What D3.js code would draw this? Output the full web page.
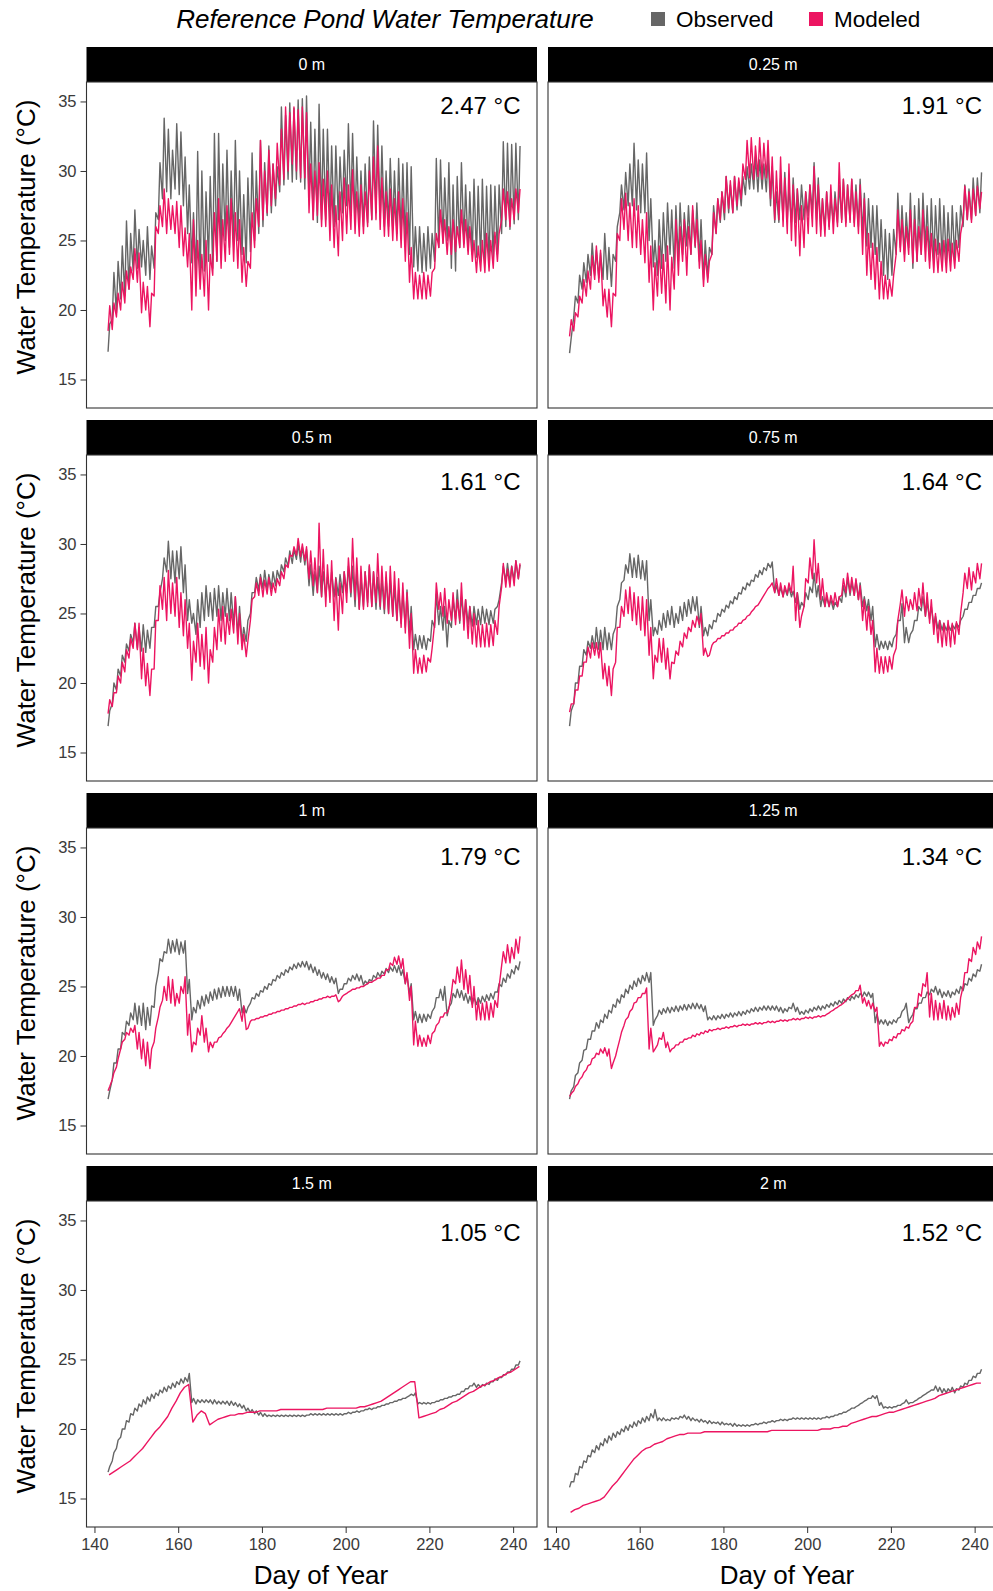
<!DOCTYPE html>
<html>
<head>
<meta charset="utf-8">
<script src="https://cdn.jsdelivr.net/npm/d3@7"></script>
<style>
  body { margin: 0; background: #fff; }
  svg { display: block; font-family: "Liberation Sans", Arial, sans-serif; }
</style>
</head>
<body>
<div id="chart"></div>
<script>
// Day of year for every daily reading
const days = [
  143, 144, 145, 146, 147, 148, 149, 150, 151, 152,
  153, 154, 155, 156, 157, 158, 159, 160, 161, 162,
  163, 164, 165, 166, 167, 168, 169, 170, 171, 172,
  173, 174, 175, 176, 177, 178, 179, 180, 181, 182,
  183, 184, 185, 186, 187, 188, 189, 190, 191, 192,
  193, 194, 195, 196, 197, 198, 199, 200, 201, 202,
  203, 204, 205, 206, 207, 208, 209, 210, 211, 212,
  213, 214, 215, 216, 217, 218, 219, 220, 221, 222,
  223, 224, 225, 226, 227, 228, 229, 230, 231, 232,
  233, 234, 235, 236, 237, 238, 239, 240, 241
];

const depths = ["0 m", "0.25 m", "0.5 m", "0.75 m", "1 m", "1.25 m", "1.5 m", "2 m"];
const rmse = ["2.47 °C", "1.91 °C", "1.61 °C", "1.64 °C", "1.79 °C", "1.34 °C", "1.05 °C", "1.52 °C"];
const yTicks = [15, 20, 25, 30, 35];
const xTicks = [140, 160, 180, 200, 220, 240];

// Daily afternoon highs (Hi) and early-morning lows (Lo), deg C
const obs0Hi = [
  19, 22.7, 23.5, 24.6, 26.4, 25.5, 27.2, 25.8, 25, 26,
  24.6, 27, 30.6, 33.8, 33, 31.5, 33.4, 32.8, 31, 29,
  27, 31.4, 30, 28.5, 29.6, 32.7, 32.7, 30.5, 31.5, 30,
  32.2, 30, 28.3, 29.5, 31.3, 30, 32.2, 30.6, 31.8, 30.5,
  30.3, 34.6, 34, 34.9, 34.5, 35.1, 35.2, 35.4, 33.5, 33,
  34.8, 33, 33, 31.8, 31.8, 31, 31.5, 33.4, 32.7, 31,
  30, 30.5, 31, 33.6, 33.3, 31.8, 30, 30.9, 30, 30.9,
  30.5, 30.6, 30.3, 26, 26, 25.5, 26, 25.5, 30.9, 30.8,
  29.5, 30.6, 29, 29.6, 30.6, 29, 28.5, 29.4, 28.9, 29.4,
  28.9, 29, 28.9, 29, 32.1, 32, 31.9, 32, 31.8
];
const obs0Lo = [
  17, 19.3, 19.8, 20.8, 21, 21.5, 22.8, 23, 23.1, 22.5,
  22.2, 23, 26.5, 28, 28.5, 28, 28.7, 28.3, 27.5, 25.5,
  23.4, 22.5, 22.2, 22.8, 23.5, 23, 23.5, 24.2, 25, 24.5,
  24.8, 25, 24, 23.4, 24.2, 25, 25.5, 26, 26.8, 27,
  27.5, 28.5, 29, 29.4, 29.2, 29.4, 29.2, 28.7, 28, 26.5,
  26.3, 26.5, 26.5, 26.3, 26, 26.5, 27, 27.5, 27, 26.5,
  26, 26, 26.3, 26.5, 27, 26.5, 26, 26, 25.8, 25.5,
  25.3, 24.8, 24, 23.1, 22.8, 22.7, 22.8, 23, 23.5, 24.5,
  24.8, 25, 23, 22.8, 24.5, 24.8, 24.3, 24, 23.8, 23.5,
  23.5, 23.3, 23.5, 24, 25.5, 26, 25.8, 26.2, 26.5
];
const mod0Hi = [
  20.3, 20.5, 21.2, 22, 22.8, 23.1, 24.4, 24.1, 22, 21.7,
  21.2, 26, 27.5, 28.7, 28, 27.5, 27.8, 27.5, 25.9, 25.5,
  26.5, 25, 24, 25, 24, 27, 28, 26.5, 27.5, 28,
  27, 26.5, 24.5, 23.5, 27, 28, 32.2, 30, 31.5, 30.5,
  32, 33, 34.6, 34.2, 34.6, 34.4, 34.6, 34.2, 30.5, 30,
  30.6, 29.4, 30, 29, 27.5, 28.5, 29.5, 29, 30.1, 28.5,
  29, 28.5, 30, 31, 31.8, 29.5, 28.5, 28.7, 28, 28.5,
  28, 27, 24.5, 22.7, 22.5, 22.7, 22.5, 22.7, 25.5, 27.2,
  26.5, 26, 26.5, 26, 27.2, 26.5, 26, 25, 24.6, 25,
  25.5, 25, 25.6, 25.5, 28.7, 28.5, 28, 28.7, 28.7
];
const mod0Lo = [
  18.5, 18.6, 19.5, 20, 20.5, 21.5, 22.2, 22, 19.8, 20,
  18.8, 21, 25.5, 26, 25.5, 25.8, 25.5, 24.5, 23.9, 23.1,
  20, 21, 21.5, 21, 20, 22.5, 23.5, 23, 23.5, 24,
  23.5, 23, 22, 21.7, 23, 24.5, 26, 26.5, 27, 27.5,
  28, 29, 29.4, 30, 30.5, 30, 29.5, 29.5, 27, 26.5,
  26.8, 26, 26, 25, 24.5, 23.9, 25, 25.5, 25.8, 25.5,
  25.3, 25.5, 26, 26.5, 26.5, 25.8, 25.3, 25.3, 25, 25,
  24.5, 23.5, 22, 20.8, 20.8, 20.8, 20.8, 21, 23, 24.5,
  24.8, 24, 24, 24.2, 24.5, 24.5, 24, 23.5, 22.7, 22.8,
  22.7, 22.8, 23, 23.5, 26.5, 26.5, 26, 26.5, 27
];

const obs025Hi = [
  18, 21, 22.5, 23.4, 24, 24.8, 24.3, 24.1, 25.5, 24.5,
  24, 26, 29, 29.9, 30.5, 32, 30.8, 30.5, 31.3, 28,
  25, 26.5, 27, 27.7, 27.2, 27.5, 27.7, 27, 27.5, 27.2,
  27.7, 26.5, 25, 24.5, 27.5, 28, 28.5, 29.6, 29, 29.6,
  29.2, 29.6, 30.3, 30.5, 31, 30.8, 30.5, 31, 30.3, 28.5,
  29.5, 29.9, 28.7, 29.5, 28.7, 29, 28.5, 29, 30.6, 29.5,
  28, 28.5, 28, 28.5, 29, 29.4, 29, 29.4, 29, 29.4,
  28.4, 28, 27.5, 27.5, 26.5, 25.8, 25.5, 25.8, 28.4, 27.5,
  27, 28.4, 27.5, 28, 28.4, 27.5, 28, 27.5, 28, 27.5,
  27, 27.5, 27, 27.5, 29, 28.7, 29.5, 29.5, 29.9
];
const obs025Lo = [
  16.9, 19.5, 20.5, 21.5, 22, 22.5, 22.5, 22.3, 22.2, 22.2,
  21.7, 23.5, 27, 27.2, 27.5, 27.5, 27.2, 27, 27, 25,
  23.1, 22.5, 23, 23.5, 24, 23, 23.5, 24, 24.6, 24,
  24.5, 23.5, 22.2, 22.3, 24, 25.5, 26.3, 26.5, 27, 27,
  27.2, 27.5, 28.3, 28.7, 28.7, 28.5, 28.7, 28.5, 27.5, 26.3,
  26.3, 26.5, 26.5, 26.3, 26.3, 26.5, 26.5, 26.8, 27, 26.5,
  25.8, 25.8, 26, 26.3, 26.3, 26.5, 26.3, 26.5, 26.3, 26,
  25.5, 24.6, 24.5, 24, 23.5, 22.5, 22.2, 22.5, 24, 24.5,
  24, 24.5, 23, 23.5, 24, 24.5, 23.5, 23.5, 24, 23.5,
  23.4, 23.5, 23.6, 24.5, 26, 26.5, 26.5, 26.8, 27
];
const mod025Hi = [
  19.3, 19.8, 21, 22.2, 22.8, 23.9, 24.6, 24.3, 21.5, 21.5,
  21.2, 25.5, 28, 28.4, 27.7, 28, 27.5, 26.5, 27, 24.6,
  23.4, 24.6, 24, 24.6, 23.8, 26.5, 26, 26.5, 26, 27.5,
  26.5, 25, 24, 23.5, 27, 28, 28.5, 29.6, 29.3, 29.6,
  29.5, 30.5, 32.2, 32.4, 31.8, 32.4, 32, 32.2, 31, 30,
  31, 29.5, 30.5, 29, 28.7, 27.5, 28.5, 29, 30.3, 29,
  28, 28.5, 29, 28, 30.6, 29.4, 29, 29.4, 28.5, 29,
  28, 25.5, 24.8, 24.5, 23.5, 22.5, 22.2, 22.5, 27.2, 26.5,
  26, 27.2, 26.5, 26, 27.2, 26, 25.5, 25.1, 24.8, 25,
  25.1, 24.8, 25, 25.5, 28.9, 28.5, 28.7, 28.9, 28.5
];
const mod025Lo = [
  18.1, 18.5, 19.5, 20.5, 21, 21.5, 22.2, 22, 20.3, 19.5,
  18.8, 21, 25, 25.8, 25, 24.5, 24.5, 24, 23.4, 22,
  20, 21, 21.2, 20.5, 20, 21.5, 22.5, 23.5, 22.5, 24,
  24.6, 23, 21.7, 22, 24, 25.5, 26.5, 27, 27.3, 27,
  27.5, 28, 29.4, 29.5, 29.4, 29.6, 29.4, 29.5, 28, 26.5,
  26.5, 26, 25.5, 25, 24.6, 23.9, 24.5, 25.5, 26, 25.5,
  25.3, 25.3, 25.8, 25.5, 26, 26.3, 26, 26.3, 26, 25.5,
  24, 22.5, 22.2, 21.5, 20.8, 20.8, 20.8, 21, 24, 24.2,
  23.5, 24, 23.4, 23.5, 24, 23.5, 23, 22.7, 22.7, 22.8,
  22.7, 22.8, 23, 23.5, 26.5, 26.5, 26.3, 26.8, 27.3
];

const obs05Hi = [
  18, 20, 21, 22, 22.8, 23.5, 24.3, 24, 24.2, 23.8,
  24, 25.5, 26.5, 29, 30.2, 29.5, 29.5, 29.8, 28.5, 26,
  25, 26, 26.5, 27, 26.5, 26.8, 27, 26.5, 26.8, 26.5,
  26.2, 25.5, 24, 24.5, 26.5, 27.6, 27.8, 28.1, 27.8, 28,
  28.1, 28.5, 29, 29.5, 29.6, 30, 29.8, 29.6, 28.5, 28,
  28.4, 28, 27.6, 28, 27.6, 27.8, 28, 28.4, 28.4, 28,
  27.5, 28, 28.4, 28, 27.6, 27.5, 27.6, 27.4, 27, 26.7,
  26.5, 26.7, 25.5, 23.5, 23.4, 23.4, 23.2, 24.5, 26.4, 25.5,
  25.5, 24.5, 26, 26.7, 26.2, 26, 25.5, 25.5, 25.3, 25.5,
  25.3, 25.2, 25.3, 26, 28.4, 28.6, 28.4, 28.8, 28.5
];
const obs05Lo = [
  16.9, 18.5, 19.5, 20.5, 21.5, 22.3, 22.9, 22.5, 22.3, 22.2,
  22.5, 24, 25.5, 27.5, 28, 27.5, 27.2, 27.5, 26.5, 24.5,
  24.3, 23.5, 24, 24.5, 24.8, 24.5, 24.8, 24.5, 24.8, 24.5,
  24.2, 23.4, 22.9, 23, 25, 26.5, 26.7, 26.8, 26.7, 26.8,
  27, 27.5, 28, 28.4, 28.6, 28.9, 28.7, 28.5, 27, 26.3,
  26.5, 26.2, 26.2, 26.5, 26.2, 26.3, 26.5, 26.5, 26.2, 25.5,
  25.3, 25.5, 25.8, 25.5, 25.3, 25.3, 25, 25, 24.8, 24.5,
  24.3, 24, 23.6, 22.4, 22.4, 22.5, 22.4, 23, 24, 24.2,
  23.8, 22.6, 24, 24.6, 24.3, 24.5, 24.2, 24.1, 24.2, 24.2,
  24.3, 24.2, 24.3, 25.5, 27.2, 27.3, 27.2, 27.4, 27.5
];
const mod05Hi = [
  18.8, 19.3, 20.5, 21.5, 22.4, 23.2, 24.3, 24.3, 22.5, 21.4,
  21, 24.5, 27, 27.6, 28.1, 27.2, 27.6, 26.5, 26, 24.3,
  23, 24.3, 23.5, 24, 22.4, 24, 25.3, 25.5, 25, 25.3,
  26.2, 25, 23.5, 23, 26, 27.2, 27.6, 27.4, 27.6, 27.2,
  27.5, 28, 28.5, 29.2, 29.8, 30.4, 30, 29.8, 29.5, 29,
  31.5, 29.6, 28.5, 28.8, 27.5, 27.2, 28, 29, 30.4, 29,
  28.4, 28, 28.5, 28, 29.3, 28.4, 28, 28.4, 28, 27.5,
  27.2, 26.5, 25, 22.4, 21.8, 22, 21.8, 22.5, 27.2, 26.5,
  26.8, 26, 26.5, 26, 27.2, 26, 25.5, 25, 24.5, 24.2,
  24.3, 24.2, 24.5, 25.5, 28.6, 28.2, 28.4, 28.8, 28.6
];
const mod05Lo = [
  17.8, 18.3, 19.3, 20, 20.8, 21.8, 22.5, 22.4, 20.3, 19.8,
  19.1, 21, 24.5, 25.3, 24.5, 25, 24.8, 24, 23.4, 22.5,
  20.2, 21.5, 21.2, 21, 20, 21.5, 22.4, 23, 22.8, 23.5,
  23.6, 22.8, 22.4, 21.9, 24.5, 26.2, 26.3, 26.2, 26.4, 26.3,
  26.5, 27, 27.5, 28.3, 29.1, 29.2, 29.1, 28.8, 27.5, 27,
  26.5, 26.2, 25.5, 25.8, 24.5, 23.8, 25, 25.8, 26.5, 26,
  25.3, 25.3, 25.5, 25.5, 25.8, 25.5, 25.3, 25, 24.8, 24.5,
  24, 23.6, 22.5, 20.7, 20.7, 20.7, 20.8, 21.5, 24.3, 25.3,
  24.8, 24.3, 24.5, 24.2, 24.5, 23.8, 23.2, 22.8, 22.6, 22.6,
  22.6, 22.6, 22.7, 23.5, 26.9, 26.9, 26.9, 27, 27.5
];

const obs075Hi = [
  18, 20, 21.2, 22.4, 23, 23.4, 24, 23.8, 24, 23.6,
  23.5, 25.5, 27.2, 28.5, 29.3, 29, 29.2, 28.8, 28.8, 26,
  24, 24.5, 25, 25.2, 25.5, 25, 25.5, 25.8, 26, 26.2,
  26.2, 25.5, 24, 24.2, 24.5, 25, 25.3, 25.6, 25.9, 26.2,
  26.5, 26.9, 27.2, 27.4, 27.8, 28.1, 28.3, 28.6, 28.7, 27,
  26.9, 26.8, 26.9, 26.6, 26.5, 25.8, 26.5, 26.9, 27.9, 27,
  26.2, 26.2, 26, 25.8, 26.2, 27, 27.6, 27.2, 27.4, 27.2,
  26.2, 26, 25.5, 23.5, 23, 23, 23, 23.2, 24.5, 25.7,
  24, 23.5, 24.5, 25.5, 26.2, 25.8, 25.5, 24.8, 24.5, 24.3,
  24.2, 24.2, 24.3, 24.5, 25.3, 25.8, 26.3, 26.8, 27.2
];
const obs075Lo = [
  16.9, 18.5, 20, 21.2, 22, 22.5, 22.5, 22.4, 22.4, 22.4,
  22.4, 24, 26, 27.4, 27.9, 27.6, 27.6, 27.5, 27.4, 24.5,
  23.4, 23.5, 23.8, 24, 24.2, 24, 24.3, 24.5, 24.8, 25,
  25.2, 24, 23.4, 23.4, 23.9, 24.4, 24.8, 25.1, 25.4, 25.7,
  26, 26.4, 26.7, 27, 27.3, 27.6, 27.8, 28.1, 28.3, 26.5,
  26.3, 26.2, 26.3, 26.2, 25.8, 25.3, 25.5, 26, 26.5, 26.2,
  25.5, 25.5, 25.5, 25.3, 25.5, 25.8, 26.2, 26.3, 26.3, 26,
  25.5, 25.2, 24.5, 22.6, 22.4, 22.5, 22.4, 22.6, 23.5, 24.5,
  22.9, 22.9, 23.8, 24.5, 25.2, 24.8, 24.6, 24.2, 23.9, 23.8,
  23.8, 23.8, 23.9, 24, 24.8, 25.3, 25.8, 26.3, 26.8
];
const mod075Hi = [
  18.5, 19.5, 20.5, 21.5, 22.6, 22.9, 22.9, 22.9, 21.4, 21.2,
  21, 24, 25.5, 26.7, 26.9, 26.5, 26.2, 26.2, 26, 24,
  22, 23.2, 23.2, 22.5, 21.5, 22.3, 23, 23.6, 24, 24.5,
  24.8, 25, 22.5, 22, 22.9, 23.2, 23.4, 23.6, 23.8, 24,
  24.3, 24.5, 24.8, 25.1, 25.5, 25.8, 26.3, 26.8, 27.2, 27.5,
  27.2, 27, 27.2, 28.4, 26.5, 24.8, 27.5, 29, 30.3, 28.6,
  27.5, 26.5, 26.3, 26.5, 26.2, 27.5, 27.9, 27.6, 27.5, 27,
  26, 25.5, 24.5, 22.5, 21.9, 21.9, 21.9, 22, 24.5, 26.7,
  26.2, 26, 26.5, 26.8, 27.2, 26.5, 26, 25, 24.5, 24.3,
  24.5, 24.3, 24.4, 25, 27.9, 28.3, 28, 28.6, 28.6
];
const mod075Lo = [
  17.9, 18.5, 19.5, 20.5, 21.5, 21.8, 22, 21.8, 20.3, 19.8,
  19.1, 21.5, 24, 24.8, 25, 24.5, 24.2, 23.8, 23.4, 22,
  20.3, 21.5, 21.5, 21, 20.3, 21.4, 22, 22.6, 23.2, 23.7,
  24, 24.2, 22, 21.9, 22.7, 23, 23.2, 23.4, 23.6, 23.8,
  24.1, 24.3, 24.6, 24.9, 25.3, 25.6, 26.1, 26.6, 27, 26.5,
  26.3, 26.2, 26.4, 26.5, 24.5, 24, 25.5, 27.2, 27.5, 27.2,
  26, 25.5, 25.5, 25.6, 25.5, 26.3, 26.5, 26.5, 26.3, 26,
  24.5, 23.8, 23.5, 20.8, 20.7, 20.7, 20.8, 21, 22.5, 25.7,
  24.8, 25.2, 25.3, 25.2, 25.5, 24.8, 24.3, 23.5, 22.9, 22.6,
  22.7, 22.6, 22.8, 23.5, 26.5, 26.8, 26.7, 27.2, 27.5
];

const obs1Hi = [
  17.5, 19.5, 20.5, 21.7, 22.5, 23.1, 23.8, 23.6, 23.8, 23.5,
  23.6, 25, 27, 27.5, 28.4, 28.3, 28.4, 28.2, 28.3, 25.5,
  23.5, 24, 24.3, 24.4, 24.6, 24.8, 24.9, 25, 25, 25,
  25, 24.8, 23.6, 23.5, 24.2, 24.5, 24.7, 25, 25.2, 25.5,
  25.8, 26, 26.2, 26.4, 26.6, 26.7, 26.8, 26.8, 26.6, 26.4,
  26.2, 26, 25.9, 25.7, 25.6, 24.8, 25.2, 25.6, 25.8, 25.9,
  25.8, 25.4, 25.5, 25.8, 26, 26.1, 26.3, 26.4, 26.5, 26.5,
  26.2, 25.8, 25.2, 23.2, 23, 23, 23, 23.2, 24.2, 24.8,
  25, 23.5, 24.5, 24.8, 24.7, 24.5, 24.3, 24.2, 24.2, 24.3,
  24.4, 24.5, 24.6, 25.2, 25.6, 25.9, 26.2, 26.5, 26.8
];
const obs1Lo = [
  16.9, 18.3, 19.5, 20.5, 21.5, 22.2, 22.6, 22.3, 22.2, 21.9,
  22.2, 23.5, 26, 26.8, 27.4, 27.4, 27.5, 27.3, 27.4, 24.5,
  22.6, 23.1, 23.4, 23.6, 23.8, 24, 24.1, 24.2, 24.3, 24.3,
  24.3, 24, 23.1, 23.1, 23.8, 24.1, 24.3, 24.6, 24.8, 25.1,
  25.4, 25.6, 25.8, 26, 26.2, 26.3, 26.4, 26.4, 26.2, 26,
  25.8, 25.6, 25.5, 25.3, 25.2, 24.5, 24.8, 25.2, 25.4, 25.5,
  25.4, 25.1, 25.2, 25.4, 25.6, 25.7, 25.9, 26, 26.1, 26,
  25.8, 25.2, 24.5, 22.6, 22.4, 22.4, 22.5, 22.7, 23.5, 24.2,
  24, 22.9, 23.8, 24.2, 24.2, 24, 23.8, 23.7, 23.7, 23.8,
  23.9, 24, 24.1, 24.6, 25, 25.3, 25.6, 25.9, 26.2
];
const mod1Hi = [
  17.8, 18.8, 19.8, 21, 21.7, 22, 22.2, 21.7, 21.2, 21,
  20.5, 22, 23.5, 25, 25.7, 25.5, 24.5, 25, 25.7, 23,
  21, 22, 22.9, 22, 21, 21, 21.3, 21.6, 22, 22.4,
  22.9, 23.4, 23.6, 22, 22.6, 22.7, 22.8, 22.9, 23, 23.1,
  23.2, 23.3, 23.4, 23.5, 23.6, 23.7, 23.8, 23.8, 23.9, 24,
  24.1, 24.2, 24.3, 24.3, 24.4, 24, 24.4, 24.6, 24.8, 24.9,
  25, 25.1, 25.3, 25.4, 25.6, 25.8, 26.2, 26.7, 27.1, 27.2,
  27, 26, 25, 22.5, 21.5, 21.3, 21.5, 21.6, 22.2, 22.8,
  23.1, 23.4, 25.5, 26.4, 26.9, 26.2, 25.8, 25, 24, 23.8,
  23.9, 23.8, 24, 25, 27.5, 28, 27.8, 28.4, 28.6
];
const mod1Lo = [
  17.5, 18.3, 19.2, 20.5, 21.2, 21.5, 21.7, 20.5, 19.8, 19.3,
  19.1, 21, 22.8, 24, 24, 23.8, 23.6, 23.8, 24.5, 21.5,
  20.3, 20.8, 21.5, 21, 20.3, 20.6, 21, 21.4, 21.8, 22.2,
  22.7, 23.2, 22.5, 21.9, 22.5, 22.6, 22.7, 22.8, 22.9, 23,
  23.1, 23.2, 23.3, 23.4, 23.5, 23.6, 23.7, 23.7, 23.8, 23.9,
  24, 24.1, 24.2, 24.2, 24.3, 23.9, 24.3, 24.5, 24.7, 24.8,
  24.9, 25, 25.2, 25.3, 25.5, 25.6, 25.8, 26.2, 26.5, 26.6,
  26.3, 25.2, 24, 20.8, 20.7, 20.7, 20.7, 20.9, 21.8, 22.4,
  22.8, 23.1, 24.5, 25.2, 25.3, 24.8, 24.5, 23.5, 22.6, 22.6,
  22.6, 22.6, 22.8, 23.5, 26.5, 26.7, 26.7, 27, 27.4
];

const obs125Hi = [
  17.5, 18.6, 19.5, 20.4, 21.2, 21.8, 22.4, 22.6, 23, 23.3,
  23.7, 24.1, 24.4, 24.8, 25.1, 25.4, 25.6, 25.8, 26, 26,
  22.6, 23.3, 23.4, 23.5, 23.5, 23.6, 23.6, 23.7, 23.7, 23.8,
  23.8, 23.7, 23.6, 22.8, 22.9, 22.9, 23, 23, 23.1, 23.1,
  23.2, 23.2, 23.3, 23.4, 23.5, 23.5, 23.6, 23.6, 23.6, 23.6,
  23.5, 23.4, 23.5, 23.8, 23.5, 23.2, 23.3, 23.4, 23.5, 23.6,
  23.6, 23.7, 23.8, 23.9, 24, 24.1, 24.2, 24.3, 24.4, 24.5,
  24.6, 24.6, 24.5, 23, 22.6, 22.6, 22.5, 22.6, 22.7, 23.2,
  23.8, 22.7, 23.4, 23.8, 24.2, 24.6, 24.8, 25, 24.8, 24.6,
  24.7, 24.6, 24.8, 25, 25.2, 25.6, 25.9, 26.2, 26.6
];
const obs125Lo = [
  16.9, 17.8, 18.8, 19.7, 20.5, 21.2, 21.8, 22, 22.4, 22.7,
  23.1, 23.5, 23.8, 24.2, 24.5, 24.8, 25, 25.2, 25.4, 25.3,
  22.2, 22.9, 23, 23.1, 23.1, 23.2, 23.2, 23.3, 23.3, 23.4,
  23.4, 23.4, 23.2, 22.6, 22.6, 22.6, 22.7, 22.7, 22.8, 22.8,
  22.9, 22.9, 23, 23.1, 23.2, 23.2, 23.3, 23.3, 23.3, 23.3,
  23.2, 23.1, 23.2, 23.4, 23.2, 23, 23, 23.1, 23.2, 23.3,
  23.3, 23.4, 23.5, 23.6, 23.7, 23.8, 23.9, 24, 24.1, 24.2,
  24.3, 24.3, 24.2, 22.4, 22.3, 22.3, 22.2, 22.3, 22.4, 22.8,
  23.4, 22.4, 23, 23.4, 23.8, 24.2, 24.4, 24.6, 24.4, 24.2,
  24.3, 24.2, 24.4, 24.5, 24.7, 25.1, 25.4, 25.7, 26.1
];
const mod125Hi = [
  17.3, 17.8, 18.3, 18.8, 19.3, 19.8, 20.2, 20.5, 20.6, 20.5,
  19.5, 20.5, 21.7, 22.6, 23.2, 23.8, 24.2, 24.5, 24.9, 22,
  20.5, 21.3, 21.7, 21, 20.5, 20.8, 21, 21.2, 21.3, 21.5,
  21.6, 21.7, 21.8, 21.9, 21.9, 22, 22, 22.1, 22.1, 22.2,
  22.2, 22.3, 22.3, 22.3, 22.4, 22.4, 22.4, 22.5, 22.5, 22.5,
  22.6, 22.6, 22.6, 22.7, 22.7, 22.7, 22.8, 22.8, 22.8, 22.9,
  22.9, 23, 23.2, 23.4, 23.6, 23.8, 24.1, 24.4, 24.7, 25.1,
  24.2, 24, 23.8, 23.5, 21, 21, 21.2, 21.4, 21.6, 21.9,
  22.1, 22.3, 23.5, 24.5, 25.2, 26, 24.5, 24, 23.8, 24,
  23.6, 23.5, 23.8, 24.2, 26, 27, 27.8, 28.2, 28.6
];
const mod125Lo = [
  17.1, 17.5, 18, 18.5, 19, 19.4, 19.9, 20.1, 20.2, 20,
  19.1, 20, 21.2, 22.2, 22.8, 23.4, 23.9, 24.2, 24.5, 20.5,
  20.3, 20.8, 21.2, 20.6, 20.3, 20.6, 20.8, 21, 21.2, 21.3,
  21.4, 21.5, 21.6, 21.7, 21.8, 21.9, 21.9, 22, 22, 22.1,
  22.1, 22.2, 22.2, 22.2, 22.3, 22.3, 22.3, 22.4, 22.4, 22.4,
  22.5, 22.5, 22.5, 22.6, 22.6, 22.6, 22.7, 22.7, 22.7, 22.8,
  22.8, 22.9, 23.1, 23.3, 23.5, 23.7, 24, 24.3, 24.5, 24.7,
  23.8, 23.6, 23.4, 23.2, 20.7, 20.7, 20.9, 21.1, 21.3, 21.6,
  21.8, 22, 22.5, 23.5, 24.3, 25, 22.8, 22.6, 22.6, 22.7,
  22.6, 22.6, 22.8, 23, 25, 26, 26.8, 27.3, 27.7
];

const obs15Hi = [
  17.3, 18.3, 19.2, 20, 20.6, 21.1, 21.5, 21.8, 22.1, 22.3,
  22.5, 22.6, 22.8, 23, 23.1, 23.3, 23.4, 23.6, 23.7, 24,
  22.2, 22.1, 22.1, 22.1, 22.1, 22.1, 22, 22, 22, 22,
  21.9, 21.8, 21.7, 21.5, 21.4, 21.3, 21.2, 21.1, 21, 21,
  21, 21, 21, 21, 21, 21, 21, 21, 21.1, 21.1,
  21.1, 21.1, 21.1, 21.1, 21.1, 21.1, 21.1, 21.2, 21.2, 21.3,
  21.3, 21.4, 21.5, 21.5, 21.6, 21.7, 21.8, 21.9, 22, 22.1,
  22.2, 22.3, 22.5, 22.6, 21.9, 21.9, 21.9, 21.9, 22, 22.1,
  22.2, 22.3, 22.4, 22.5, 22.7, 22.9, 23.1, 23.3, 23.2, 23.2,
  23.3, 23.4, 23.6, 23.7, 23.9, 24.1, 24.3, 24.6, 24.9
];
const obs15Lo = [
  16.9, 17.7, 18.6, 19.4, 20, 20.5, 21, 21.3, 21.6, 21.8,
  22, 22.2, 22.4, 22.6, 22.7, 22.9, 23, 23.2, 23.3, 23.4,
  21.9, 21.8, 21.9, 21.9, 21.9, 21.8, 21.8, 21.8, 21.8, 21.7,
  21.7, 21.6, 21.5, 21.3, 21.2, 21.1, 21, 20.9, 20.9, 20.9,
  20.9, 20.9, 20.9, 20.9, 20.9, 20.9, 20.9, 20.9, 21, 21,
  21, 21, 21, 21, 21, 21, 21, 21.1, 21.1, 21.2,
  21.2, 21.3, 21.4, 21.4, 21.5, 21.6, 21.7, 21.8, 21.9, 22,
  22.1, 22.2, 22.4, 22.4, 21.8, 21.8, 21.8, 21.8, 21.9, 22,
  22.1, 22.2, 22.3, 22.4, 22.5, 22.7, 22.9, 23.1, 23, 23,
  23.1, 23.2, 23.4, 23.5, 23.7, 23.9, 24.1, 24.3, 24.6
];
// Modeled 1.5 m shows no visible daily cycle: one reading per day
const mod15 = [
  16.7, 16.9, 17.1, 17.3, 17.5, 17.7, 18, 18.3, 18.6, 19,
  19.4, 19.8, 20.1, 20.5, 20.9, 21.5, 22, 22.6, 23, 23.2,
  20.5, 21, 21.3, 21.1, 20.3, 20.5, 20.7, 20.8, 20.9, 21,
  21, 21.1, 21.1, 21.2, 21.2, 21.2, 21.3, 21.3, 21.3, 21.3,
  21.3, 21.4, 21.4, 21.4, 21.4, 21.4, 21.4, 21.4, 21.4, 21.4,
  21.4, 21.4, 21.5, 21.5, 21.5, 21.5, 21.5, 21.5, 21.5, 21.5,
  21.6, 21.6, 21.7, 21.8, 21.9, 22, 22.2, 22.4, 22.6, 22.8,
  23, 23.2, 23.4, 23.4, 20.8, 20.9, 21, 21.1, 21.2, 21.4,
  21.5, 21.7, 21.9, 22, 22.2, 22.4, 22.6, 22.7, 22.9, 23.1,
  23.2, 23.4, 23.5, 23.7, 23.8, 24, 24.1, 24.3, 24.5
];

const obs2Hi = [
  16.2, 16.8, 17.3, 17.7, 18.1, 18.5, 18.8, 19, 19.3, 19.5,
  19.7, 19.8, 20, 20.2, 20.3, 20.5, 20.6, 20.8, 20.9, 21.1,
  21.4, 20.8, 20.8, 20.7, 20.8, 20.8, 20.9, 21, 20.9, 20.8,
  20.7, 20.7, 20.6, 20.6, 20.5, 20.5, 20.5, 20.4, 20.4, 20.4,
  20.3, 20.3, 20.3, 20.3, 20.4, 20.4, 20.5, 20.5, 20.6, 20.6,
  20.7, 20.7, 20.7, 20.8, 20.8, 20.8, 20.8, 20.8, 20.8, 20.8,
  20.8, 20.9, 20.9, 21, 21.1, 21.2, 21.3, 21.5, 21.6, 21.8,
  22, 22.2, 22.4, 22.4, 21.9, 21.6, 21.6, 21.6, 21.7, 21.8,
  22.1, 21.9, 22, 22.2, 22.4, 22.6, 22.8, 23.1, 23, 22.9,
  22.9, 23, 22.9, 23.1, 23.3, 23.5, 23.8, 24, 24.3
];
const obs2Lo = [
  15.8, 16.2, 16.7, 17.2, 17.6, 18, 18.3, 18.5, 18.8, 19,
  19.2, 19.4, 19.6, 19.8, 19.9, 20.1, 20.2, 20.4, 20.5, 20.6,
  20.8, 20.6, 20.6, 20.6, 20.6, 20.7, 20.7, 20.8, 20.7, 20.6,
  20.6, 20.5, 20.5, 20.4, 20.4, 20.4, 20.3, 20.3, 20.3, 20.2,
  20.2, 20.2, 20.2, 20.2, 20.3, 20.3, 20.4, 20.4, 20.5, 20.5,
  20.6, 20.6, 20.6, 20.7, 20.7, 20.7, 20.7, 20.7, 20.7, 20.7,
  20.7, 20.8, 20.8, 20.9, 21, 21.1, 21.2, 21.4, 21.5, 21.7,
  21.9, 22.1, 22.2, 22.2, 21.7, 21.5, 21.5, 21.5, 21.6, 21.7,
  21.9, 21.8, 21.9, 22.1, 22.3, 22.5, 22.7, 22.8, 22.7, 22.6,
  22.6, 22.7, 22.6, 22.8, 23, 23.2, 23.5, 23.7, 24
];
// Modeled 2 m: one reading per day
const mod2 = [
  14, 14.2, 14.3, 14.5, 14.6, 14.7, 14.8, 14.9, 15.1, 15.5,
  15.9, 16.2, 16.6, 17, 17.4, 17.8, 18.1, 18.4, 18.6, 18.7,
  18.9, 19, 19.1, 19.3, 19.4, 19.5, 19.6, 19.6, 19.7, 19.7,
  19.7, 19.7, 19.8, 19.8, 19.8, 19.8, 19.8, 19.8, 19.8, 19.8,
  19.8, 19.8, 19.8, 19.8, 19.8, 19.8, 19.8, 19.8, 19.9, 19.9,
  19.9, 19.9, 19.9, 19.9, 19.9, 19.9, 19.9, 19.9, 19.9, 19.9,
  20, 20, 20, 20.1, 20.1, 20.2, 20.2, 20.4, 20.5, 20.6,
  20.7, 20.8, 20.9, 20.9, 21, 21.1, 21.2, 21.2, 21.3, 21.4,
  21.5, 21.6, 21.7, 21.8, 21.9, 22, 22.1, 22.2, 22.4, 22.5,
  22.6, 22.7, 22.8, 22.9, 23, 23.1, 23.2, 23.3, 23.3
];

const observed = [
  [obs0Hi, obs0Lo], [obs025Hi, obs025Lo], [obs05Hi, obs05Lo], [obs075Hi, obs075Lo],
  [obs1Hi, obs1Lo], [obs125Hi, obs125Lo], [obs15Hi, obs15Lo], [obs2Hi, obs2Lo]
];
const modeled = [
  [mod0Hi, mod0Lo], [mod025Hi, mod025Lo], [mod05Hi, mod05Lo], [mod075Hi, mod075Lo],
  [mod1Hi, mod1Lo], [mod125Hi, mod125Lo], [mod15, null], [mod2, null]
];

// Colours
const obsColor = "#666666";
const modColor = "#EC1561";

// Time of day (fraction) for the daily low and high
const LOW_AT = 0.25, HIGH_AT = 0.65;

function dielPoints(hi, lo) {
  const pts = [];
  days.forEach((d, i) => {
    if (lo) {
      pts.push([d + LOW_AT, lo[i]]);
      pts.push([d + HIGH_AT, hi[i]]);
    } else {
      pts.push([d + 0.5, hi[i]]);
    }
  });
  return pts;
}

// Dimensions
const W = 993, H = 1591;
const colX = [86.5, 548];
const panelW = 450.5, panelH = 326, stripH = 35, rowStep = 373, firstTop = 82;

const svg = d3.select("#chart")
  .append("svg")
  .attr("width", W)
  .attr("height", H);

svg.append("rect").attr("width", W).attr("height", H).attr("fill", "#fff");

// Scales
const x = d3.scaleLinear().domain([138.1, 245.7]).range([0, panelW]);
const y = d3.scaleLinear().domain([12.95, 36.4]).range([panelH, 0]);

const line = d3.line()
  .x(d => x(d[0]))
  .y(d => y(d[1]));

// Title and legend
svg.append("text")
  .attr("x", 385).attr("y", 28)
  .attr("text-anchor", "middle")
  .style("font-size", "26px")
  .style("font-style", "italic")
  .text("Reference Pond Water Temperature");

const legend = [["Observed", obsColor, 651], ["Modeled", modColor, 809]];
legend.forEach(([label, color, lx]) => {
  svg.append("rect")
    .attr("x", lx).attr("y", 12)
    .attr("width", 14).attr("height", 14)
    .attr("fill", color);
  svg.append("text")
    .attr("x", lx + 25).attr("y", 27)
    .style("font-size", "22.5px")
    .text(label);
});

// Panels
depths.forEach((depth, p) => {
  const row = Math.floor(p / 2), col = p % 2;
  const top = firstTop + row * rowStep;
  const g = svg.append("g").attr("transform", `translate(${colX[col]},${top})`);

  // strip
  g.append("rect")
    .attr("x", 0).attr("y", -stripH)
    .attr("width", panelW).attr("height", stripH)
    .attr("fill", "#000");
  g.append("text")
    .attr("x", panelW / 2).attr("y", -stripH / 2 + 5.5)
    .attr("text-anchor", "middle")
    .attr("fill", "#fff")
    .style("font-size", "16px")
    .text(depth);

  // series
  g.append("path")
    .datum(dielPoints(observed[p][0], observed[p][1]))
    .attr("fill", "none")
    .attr("stroke", obsColor)
    .attr("stroke-width", 1.4)
    .attr("stroke-linejoin", "round")
    .attr("d", line);

  g.append("path")
    .datum(dielPoints(modeled[p][0], modeled[p][1]))
    .attr("fill", "none")
    .attr("stroke", modColor)
    .attr("stroke-width", 1.4)
    .attr("stroke-linejoin", "round")
    .attr("d", line);

  // RMSE label
  g.append("text")
    .attr("x", 434).attr("y", 32 + row * 2.5)
    .attr("text-anchor", "end")
    .style("font-size", "24px")
    .text(rmse[p]);

  // panel border
  g.append("rect")
    .attr("width", panelW).attr("height", panelH)
    .attr("fill", "none")
    .attr("stroke", "#333")
    .attr("stroke-width", 1.1);

  // Y axis on the left column
  if (col === 0) {
    const ya = g.append("g")
      .call(d3.axisLeft(y).tickValues(yTicks).tickSize(6).tickPadding(4));
    ya.select(".domain").remove();
    ya.selectAll(".tick line").attr("stroke", "#333");
    ya.selectAll(".tick text")
      .attr("fill", "#3a3a3a")
      .style("font-size", "16.5px")
      .style("font-family", "'Liberation Sans', Arial, sans-serif");

    svg.append("text")
      .attr("transform", `translate(35,${top + 155}) rotate(-90)`)
      .attr("text-anchor", "middle")
      .style("font-size", "26px")
      .text("Water Temperature (°C)");
  }

  // X axis on the bottom row
  if (row === 3) {
    const xa = g.append("g")
      .attr("transform", `translate(0,${panelH})`)
      .call(d3.axisBottom(x).tickValues(xTicks).tickSize(6).tickPadding(5));
    xa.select(".domain").remove();
    xa.selectAll(".tick line").attr("stroke", "#333");
    xa.selectAll(".tick text")
      .attr("fill", "#3a3a3a")
      .style("font-size", "16.5px")
      .style("font-family", "'Liberation Sans', Arial, sans-serif");

    svg.append("text")
      .attr("x", col === 0 ? 321 : 787)
      .attr("y", 1584)
      .attr("text-anchor", "middle")
      .style("font-size", "26px")
      .text("Day of Year");
  }
});
</script>
</body>
</html>
